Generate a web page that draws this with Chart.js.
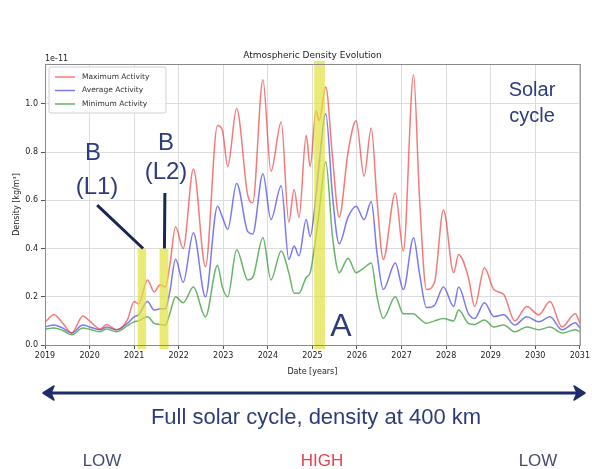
<!DOCTYPE html>
<html lang="en">
<head>
  <meta charset="UTF-8">
  <title>Atmospheric Density Evolution</title>
  <script src="https://cdn.jsdelivr.net/npm/chart.js"></script>
  <style>
    body {
      margin: 0;
      width: 592px;
      height: 469px;
      background: #fff;
      position: relative;
      overflow: hidden;
      font-family: "Liberation Sans", Arial, sans-serif;
    }
    #chart-box {
      position: absolute;
      left: 0;
      top: 0;
      width: 592px;
      height: 380px;
    }
    .note {
      position: absolute;
      color: #2e3c7a;
      line-height: 1;
      text-align: center;
      transform: translateX(-50%);
      white-space: nowrap;
    }
    .big { font-size: 24px; }
    .low { font-size: 17px; color: #454c72; }
    .high { font-size: 17px; color: #e8404e; }
    svg { position: absolute; left: 0; top: 0; }
  </style>
</head>
<body>
  <div id="chart-box"><canvas id="densityChart"></canvas></div>

  <div class="note big" style="left:93px; top:140px;">B</div>
  <div class="note big" style="left:97px; top:174px;">(L1)</div>
  <div class="note big" style="left:166px; top:130px;">B</div>
  <div class="note big" style="left:166px; top:159px;">(L2)</div>
  <div class="note" style="left:532px; top:76px; font-size:20px; line-height:26px;">Solar<br>cycle</div>
  <div class="note" style="left:341px; top:309px; font-size:32px;">A</div>

  <svg width="592" height="469">
    <line x1="47" y1="393" x2="581" y2="393" stroke="#1f2d6b" stroke-width="3"/>
    <path d="M43 393 L54 386 L51 393 L54 400 Z" fill="#1f2d6b" stroke="#1f2d6b" stroke-width="1.5" stroke-linejoin="round"/>
    <path d="M585 393 L574 386 L577 393 L574 400 Z" fill="#1f2d6b" stroke="#1f2d6b" stroke-width="1.5" stroke-linejoin="round"/>
  </svg>

  <div class="note" style="left:316px; top:406px; font-size:22px;">Full solar cycle, density at 400 km</div>
  <div class="note low" style="left:102px; top:452px;">LOW</div>
  <div class="note high" style="left:322px; top:452px;">HIGH</div>
  <div class="note low" style="left:538px; top:452px;">LOW</div>

  <script>
    // fechas (años) y densidades en unidades de 1e-11 kg/m3
    const years = [
      2019.0, 2019.2, 2019.4, 2019.6, 2019.85, 2020.0, 2020.24, 2020.38, 2020.6, 2020.85,
      2021.0, 2021.1, 2021.3, 2021.45, 2021.58, 2021.7, 2021.8, 2021.93, 2022.1, 2022.33,
      2022.6, 2022.87, 2022.98, 2023.1, 2023.3, 2023.55, 2023.66, 2023.89, 2024.07, 2024.3,
      2024.47, 2024.59, 2024.7, 2024.86, 2024.95, 2025.08, 2025.15, 2025.3, 2025.45, 2025.6,
      2025.8, 2025.98, 2026.16, 2026.32, 2026.45, 2026.59, 2026.86, 2027.04, 2027.27, 2027.4,
      2027.56, 2027.74, 2027.94, 2028.17, 2028.28, 2028.5, 2028.64, 2028.86, 2029.07, 2029.29,
      2029.54, 2029.81, 2030.08, 2030.33, 2030.6, 2030.9, 2031.0
    ];
    const maxActivity = [
      0.095, 0.125, 0.09, 0.05, 0.12, 0.10, 0.066, 0.085, 0.063, 0.105,
      0.18, 0.17, 0.27, 0.22, 0.25, 0.24, 0.33, 0.49, 0.40, 0.73,
      0.325, 0.91, 0.89, 0.74, 0.98, 0.62, 0.59, 1.10, 0.72, 0.925,
      0.51, 0.645, 0.53, 0.87, 0.74, 0.97, 0.93, 1.07, 0.78, 0.53,
      0.80, 0.93, 0.70, 0.90, 0.60, 0.355, 0.63, 0.39, 1.12, 0.62,
      0.23, 0.26, 0.56, 0.30, 0.375, 0.28, 0.16, 0.32, 0.23, 0.21,
      0.10, 0.16, 0.125, 0.18, 0.075, 0.13, 0.09
    ];
    const avgActivity = [
      0.075, 0.083, 0.07, 0.05, 0.083, 0.075, 0.063, 0.075, 0.063, 0.09,
      0.117, 0.125, 0.18, 0.145, 0.15, 0.15, 0.22, 0.355, 0.26, 0.465,
      0.20, 0.575, 0.53, 0.48, 0.67, 0.47, 0.46, 0.71, 0.52, 0.66,
      0.355, 0.41, 0.37, 0.52, 0.45, 0.62, 0.75, 0.96, 0.62, 0.42,
      0.53, 0.575, 0.52, 0.595, 0.38, 0.23, 0.34, 0.23, 0.445, 0.30,
      0.155, 0.165, 0.24, 0.16, 0.24, 0.13, 0.11, 0.175, 0.118, 0.125,
      0.083, 0.117, 0.096, 0.117, 0.063, 0.092, 0.07
    ];
    const minActivity = [
      0.066, 0.07, 0.06, 0.042, 0.07, 0.065, 0.055, 0.066, 0.055, 0.08,
      0.096, 0.10, 0.117, 0.09, 0.085, 0.083, 0.13, 0.20, 0.175, 0.24,
      0.117, 0.33, 0.24, 0.20, 0.395, 0.27, 0.28, 0.445, 0.27, 0.39,
      0.30, 0.215, 0.215, 0.28, 0.30, 0.45, 0.55, 0.76, 0.45, 0.30,
      0.36, 0.30, 0.32, 0.34, 0.20, 0.11, 0.20, 0.13, 0.13, 0.11,
      0.09, 0.10, 0.11, 0.10, 0.145, 0.09, 0.085, 0.104, 0.075, 0.083,
      0.055, 0.075, 0.063, 0.075, 0.05, 0.063, 0.055
    ];
    const yearTicks = [2019, 2020, 2021, 2022, 2023, 2024, 2025, 2026, 2027, 2028, 2029, 2030, 2031];
    const densityTicks = [0, 0.2, 0.4, 0.6, 0.8, 1.0];

    // franjas amarillas: B (L1), B (L2), A
    const bands = [
      { from: 2021.08, to: 2021.27, top: 0.40 },
      { from: 2021.57, to: 2021.77, top: 0.40 },
      { from: 2025.04, to: 2025.28, top: 1.18 }
    ];

    const series = [
      { label: 'Maximum Activity', values: maxActivity, color: 'rgba(240,50,50,0.65)' },
      { label: 'Average Activity', values: avgActivity, color: 'rgba(50,50,235,0.65)' },
      { label: 'Minimum Activity', values: minActivity, color: 'rgba(40,150,40,0.7)' }
    ];

    const tickFont = { family: 'DejaVu Sans', size: 8 };

    const extras = {
      id: 'extras',
      afterDatasetsDraw(chart) {
        const { ctx, chartArea: a, scales: { x, y } } = chart;
        ctx.save();
        // franjas
        ctx.fillStyle = 'rgba(225,225,60,0.7)';
        bands.forEach(b => {
          const x0 = x.getPixelForValue(b.from), x1 = x.getPixelForValue(b.to);
          const y0 = Math.max(y.getPixelForValue(b.top), a.top - 3);
          const y1 = a.bottom + 4;
          ctx.fillRect(x0, y0, x1 - x0, y1 - y0);
        });
        // líneas de las etiquetas B
        ctx.strokeStyle = '#1b2552';
        ctx.lineWidth = 3;
        ctx.beginPath();
        ctx.moveTo(x.getPixelForValue(2020.17), y.getPixelForValue(0.58));
        ctx.lineTo(x.getPixelForValue(2021.2), y.getPixelForValue(0.40));
        ctx.moveTo(x.getPixelForValue(2021.69), y.getPixelForValue(0.63));
        ctx.lineTo(x.getPixelForValue(2021.68), y.getPixelForValue(0.40));
        ctx.stroke();
        // marco
        ctx.strokeStyle = '#8a8a8a';
        ctx.lineWidth = 1;
        ctx.strokeRect(a.left + 0.5, a.top + 0.5, a.right - a.left, a.bottom - a.top);
        // leyenda
        ctx.fillStyle = 'rgba(255,255,255,0.85)';
        ctx.strokeStyle = '#d0d0d0';
        ctx.beginPath();
        ctx.roundRect(a.left + 4, a.top + 3, 117, 46, 2);
        ctx.fill();
        ctx.stroke();
        ctx.font = '7.5px "DejaVu Sans"';
        ctx.textBaseline = 'middle';
        chart.data.datasets.forEach((ds, i) => {
          const ly = a.top + 13 + i * 13.5;
          ctx.strokeStyle = ds.borderColor;
          ctx.lineWidth = 1.5;
          ctx.beginPath();
          ctx.moveTo(a.left + 10, ly);
          ctx.lineTo(a.left + 30, ly);
          ctx.stroke();
          ctx.fillStyle = '#333';
          ctx.fillText(ds.label, a.left + 37, ly);
        });
        // título y multiplicador
        ctx.fillStyle = '#222';
        ctx.textAlign = 'center';
        ctx.textBaseline = 'alphabetic';
        ctx.font = '9px "DejaVu Sans"';
        ctx.fillText('Atmospheric Density Evolution', (a.left + a.right) / 2, a.top - 6);
        ctx.textAlign = 'left';
        ctx.font = '8px "DejaVu Sans"';
        ctx.fillText('1e-11', a.left, a.top - 3);
        ctx.restore();
      }
    };

    new Chart(document.getElementById('densityChart'), {
      type: 'line',
      data: {
        datasets: series.map(s => ({
          label: s.label,
          data: years.map((t, i) => ({ x: t, y: s.values[i] })),
          borderColor: s.color,
          borderWidth: 1.5,
          pointRadius: 0,
          fill: false,
          cubicInterpolationMode: 'monotone'
        }))
      },
      options: {
        responsive: true,
        maintainAspectRatio: false,
        animation: false,
        layout: { padding: { top: 64, right: 12, left: 8, bottom: 0 } },
        plugins: {
          legend: { display: false },
          tooltip: { enabled: false }
        },
        scales: {
          x: {
            type: 'linear',
            min: 2019,
            max: 2031,
            afterFit: s => { s.height = 35; },
            afterBuildTicks: s => { s.ticks = yearTicks.map(v => ({ value: v })); },
            ticks: {
              font: tickFont,
              color: '#222',
              padding: 2,
              maxRotation: 0,
              callback: v => String(v)
            },
            grid: { color: '#dcdcdc', tickColor: '#555', tickLength: 4 },
            border: { color: '#8a8a8a' },
            title: {
              display: true,
              text: 'Date [years]',
              font: tickFont,
              color: '#222',
              padding: { top: 0, bottom: 3 }
            }
          },
          y: {
            min: 0,
            max: 1.165,
            afterFit: s => { s.width = 37; },
            afterBuildTicks: s => { s.ticks = densityTicks.map(v => ({ value: v })); },
            ticks: {
              font: tickFont,
              color: '#222',
              padding: 3,
              callback: v => v.toFixed(1)
            },
            grid: { color: '#dcdcdc', tickColor: '#555', tickLength: 4 },
            border: { color: '#8a8a8a' },
            title: {
              display: true,
              text: 'Density [kg/m³]',
              font: tickFont,
              color: '#222',
              padding: { top: 4, bottom: 0 }
            }
          }
        }
      },
      plugins: [extras]
    });
  </script>
</body>
</html>
